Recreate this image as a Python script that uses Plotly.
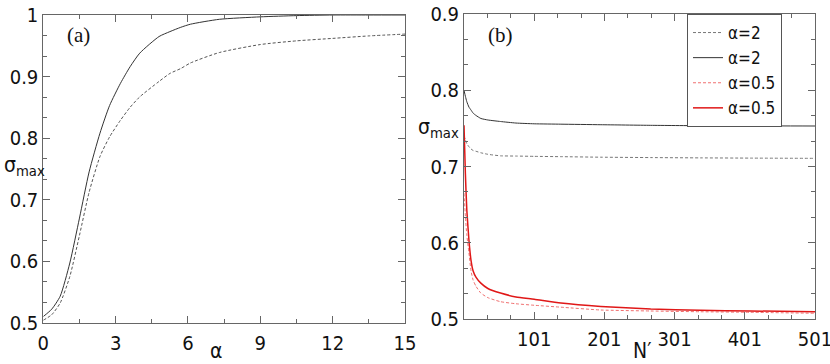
import plotly.graph_objects as go

# Panel (a): sigma_max vs alpha
alpha = [0, 0.35, 0.7, 1.1, 1.5, 1.9, 2.35, 2.75, 3.2, 3.6, 4.0, 4.8, 5.25, 5.7, 6.1, 7.3, 9.0, 10.5, 12, 13.5, 15]
sig_a_solid = [0.510, 0.522, 0.543, 0.597, 0.670, 0.745, 0.808, 0.853, 0.889, 0.916, 0.938, 0.965, 0.973,
               0.980, 0.985, 0.993, 0.997, 0.999, 1.0, 1.0, 1.0]
sig_a_dash = [0.504, 0.513, 0.532, 0.575, 0.642, 0.712, 0.770, 0.802, 0.829, 0.850, 0.867, 0.892, 0.905,
              0.913, 0.922, 0.939, 0.952, 0.958, 0.962, 0.966, 0.969]

# Panel (b): sigma_max vs N'
n_prime = [1, 3, 5, 8, 11, 14, 18, 25, 35, 53, 75, 101, 139, 196, 267, 338, 409, 501]
b_a2_dash = [0.740, 0.735, 0.730, 0.726, 0.723, 0.721, 0.720, 0.718, 0.716, 0.714, 0.7137, 0.7133,
             0.7129, 0.7122, 0.7117, 0.7113, 0.7110, 0.7107]
b_a2_solid = [0.800, 0.792, 0.785, 0.778, 0.774, 0.770, 0.767, 0.763, 0.761, 0.759, 0.757, 0.756,
              0.7555, 0.7548, 0.7540, 0.7535, 0.7533, 0.7531]
b_a05_dash = [0.665, 0.635, 0.610, 0.587, 0.563, 0.551, 0.543, 0.534, 0.528, 0.5227, 0.520, 0.518,
              0.5155, 0.5118, 0.5105, 0.5095, 0.5088, 0.5075]
b_a05_solid = [0.754, 0.690, 0.643, 0.604, 0.577, 0.563, 0.555, 0.547, 0.540, 0.534, 0.529, 0.526,
               0.521, 0.5165, 0.513, 0.5114, 0.5105, 0.5096]

legend_names = ["α=2", "α=2", "α=0.5", "α=0.5"]

x_ticks_a = [0, 3, 6, 9, 12, 15]
x_ticks_b = [101, 201, 301, 401, 501]

FONT = "Liberation Sans Narrow, DejaVu Sans Condensed, Arial Narrow, sans-serif"
AXC = "#666666"

fig = go.Figure()

fig.add_trace(go.Scatter(x=alpha, y=sig_a_solid, mode="lines", line=dict(color="#333333", width=1, shape="spline", smoothing=0.6),
                         showlegend=False, xaxis="x", yaxis="y"))
fig.add_trace(go.Scatter(x=alpha, y=sig_a_dash, mode="lines", line=dict(color="#555555", width=1, dash="3px,2px", shape="spline", smoothing=0.6),
                         showlegend=False, xaxis="x", yaxis="y"))

styles = [
    dict(color="#777777", width=1, dash="3px,2px"),
    dict(color="#333333", width=1),
    dict(color="#f07070", width=1, dash="3px,2px"),
    dict(color="#e01818", width=1.5),
]
series_b = [b_a2_dash, b_a2_solid, b_a05_dash, b_a05_solid]
for name, ys, st in zip(legend_names, series_b, styles):
    st = dict(st, shape="spline", smoothing=0.5)
    fig.add_trace(go.Scatter(x=n_prime, y=ys, mode="lines", name=name, line=st, xaxis="x2", yaxis="y2"))

axis_common = dict(showline=True, linecolor=AXC, linewidth=1, mirror="ticks", ticks="inside",
                   tickcolor=AXC, ticklen=7, tickwidth=1, showgrid=False, zeroline=False, automargin=False,
                   ticklabeloverflow="allow",
                   tickfont=dict(family=FONT, size=20, color="#111111"))

fig.update_layout(
    template="none",
    width=830, height=364,
    margin=dict(l=0, r=0, t=0, b=0, autoexpand=False),
    paper_bgcolor="white", plot_bgcolor="white",
    showlegend=True,
    xaxis=dict(domain=[43.3 / 830, 405 / 830], range=[0, 15], tickvals=x_ticks_a, ticktext=[str(v) for v in x_ticks_a],
               minor=dict(ticks="inside", dtick=1.5, tick0=0, ticklen=4, tickcolor=AXC),
               anchor="y", ticklabelstandoff=2, **axis_common),
    yaxis=dict(domain=[1 - 322.7 / 364, 1 - 15 / 364], range=[0.5, 1.0], dtick=0.1, tick0=0.5,
               minor=dict(ticks="inside", dtick=0.1 / 3, tick0=0.5, ticklen=4, tickcolor=AXC),
               anchor="x", ticklabelstandoff=0, **axis_common),
    xaxis2=dict(domain=[464 / 830, 815 / 830], range=[1, 501], tickvals=x_ticks_b, ticktext=[str(v) for v in x_ticks_b],
                minor=dict(ticks="inside", dtick=100 / 3, tick0=1, ticklen=4, tickcolor=AXC),
                anchor="y2", ticklabelstandoff=2, **axis_common),
    yaxis2=dict(domain=[1 - 319 / 364, 1 - 14 / 364], range=[0.5, 0.9], dtick=0.1, tick0=0.5,
                minor=dict(ticks="inside", dtick=0.1 / 3, tick0=0.5, ticklen=4, tickcolor=AXC),
                anchor="x2", ticklabelstandoff=0, **axis_common),
    legend=dict(x=782 / 830, xanchor="right", y=1 - 14 / 364, yanchor="top", yref="paper", xref="paper",
                bordercolor="#555555", borderwidth=1, bgcolor="white",
                font=dict(family=FONT, size=17, color="#111111"), itemwidth=30,
                tracegroupgap=0),
)

ann = [
    dict(text="(a)", x=78, y=35, xa="center", font=dict(family="Liberation Serif, Times New Roman, serif", size=21, color="#111111")),
    dict(text="(b)", x=500, y=35, xa="center", font=dict(family="Liberation Serif, Times New Roman, serif", size=21, color="#111111")),
    dict(text="σ<sub>max</sub>", x=2, y=166, xa="left", font=dict(family=FONT, size=21, color="#111111")),
    dict(text="σ<sub>max</sub>", x=416, y=128, xa="left", font=dict(family=FONT, size=21, color="#111111")),
    dict(text="α", x=216, y=351, xa="center", font=dict(family=FONT, size=21, color="#111111")),
    dict(text="N′", x=642, y=351, xa="center", font=dict(family=FONT, size=21, color="#111111")),
]
for a in ann:
    fig.add_annotation(text=a["text"], x=a["x"] / 830, y=1 - a["y"] / 364, xref="paper", yref="paper",
                       xanchor=a["xa"], yanchor="middle", showarrow=False, font=a["font"])

fig.write_html("out.html", config={"displayModeBar": False},
               post_script="document.body.style.margin='0';document.body.style.overflow='hidden';")
